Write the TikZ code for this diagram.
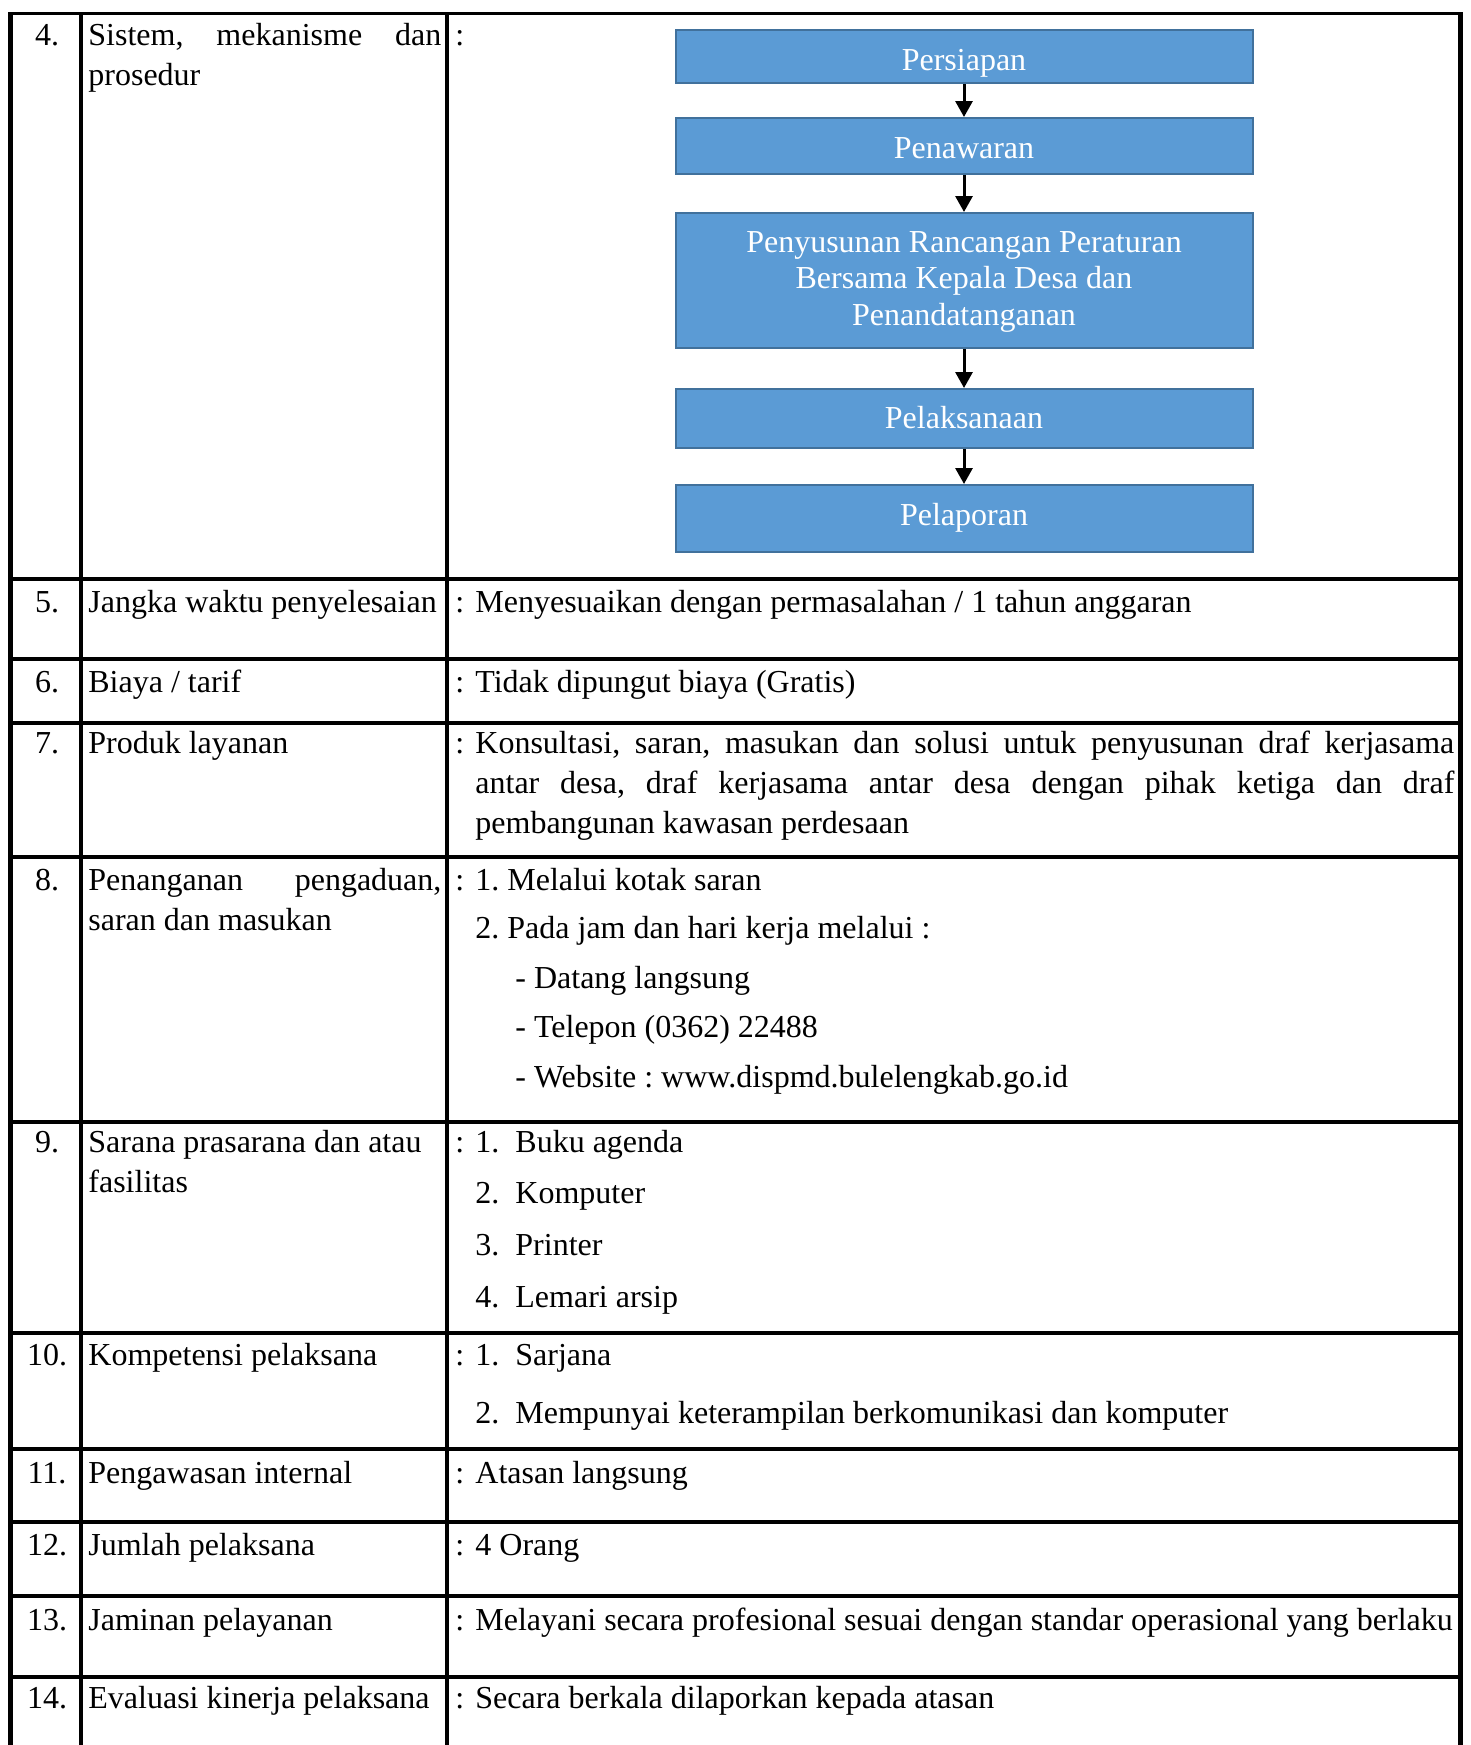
\documentclass[tikz,border=0pt]{standalone}
\usepackage{fontspec}
\setmainfont{Liberation Serif}
\usetikzlibrary{arrows.meta}
\definecolor{boxfill}{HTML}{5B9BD5}
\definecolor{boxedge}{HTML}{41719C}
\frenchspacing
\begin{document}
\begin{tikzpicture}[x=0.5pt,y=-0.5pt,
  txt/.style={anchor=base west,inner sep=0pt,font=\fontsize{16}{20}\selectfont},
  num/.style={anchor=base,inner sep=0pt,font=\fontsize{16}{20}\selectfont},
  boxtxt/.style={anchor=base,inner sep=0pt,text=white,font=\fontsize{16}{20}\selectfont},
  gridline/.style={line width=2pt},
  outerline/.style={line width=2.5pt},
  flowbox/.style={draw=boxedge,fill=boxfill,line width=1pt,minimum width=288.5pt,inner sep=0pt},
  flowarrow/.style={line width=1.5pt,-{Triangle[length=8pt,width=8.5pt]}}
]
\useasboundingbox (0,0) rectangle (1471,1745);
% table lines
\draw[line width=1.5pt] (8,13) -- (1463,13);
\foreach \yy in {579,659,723,857,1122,1333,1449,1522,1596,1677}
  \draw[gridline] (8,\yy) -- (1463,\yy);
\draw[gridline] (81,13) -- (81,1745);
\draw[gridline] (447,13) -- (447,1745);
\draw[outerline] (10.5,12) -- (10.5,1745);
\draw[outerline] (1460.5,12) -- (1460.5,1745);

% flowchart
\node[flowbox,minimum height=26.5pt] (b1) at (964,56.5) {};
\node[flowbox,minimum height=28pt] (b2) at (964,146) {};
\node[flowbox,minimum height=67.5pt] (b3) at (964,280.5) {};
\node[flowbox,minimum height=29.5pt] (b4) at (964,418.5) {};
\node[flowbox,minimum height=33.5pt] (b5) at (964,518.5) {};
\node[boxtxt] (b1t) at (964,70) {Persiapan};
\node[boxtxt] (b2t) at (964,158) {Penawaran};
\node[boxtxt] (b3ta) at (964,252) {Penyusunan Rancangan Peraturan};
\node[boxtxt] (b3tb) at (964,288.5) {Bersama Kepala Desa dan};
\node[boxtxt] (b3tc) at (964,325) {Penandatanganan};
\node[boxtxt] (b4t) at (964,428) {Pelaksanaan};
\node[boxtxt] (b5t) at (964,525) {Pelaporan};
\draw[flowarrow] (b1) -- (b2);
\draw[flowarrow] (b2) -- (b3);
\draw[flowarrow] (b3) -- (b4);
\draw[flowarrow] (b4) -- (b5);

% numbers
\node[num] (n4) at (47,45) {4.};
\node[num] (n5) at (47,612) {5.};
\node[num] (n6) at (47,692) {6.};
\node[num] (n7) at (47,753) {7.};
\node[num] (n8) at (47,890) {8.};
\node[num] (n9) at (47,1152) {9.};
\node[num] (n10) at (47,1365) {10.};
\node[num] (n11) at (47,1483) {11.};
\node[num] (n12) at (47,1555) {12.};
\node[num] (n13) at (47,1630) {13.};
\node[num] (n14) at (47,1708) {14.};

% labels
\node[txt] (l4a) at (88,45) {\makebox[176.5pt][s]{Sistem, mekanisme dan}};
\node[txt] (l4b) at (88,85) {prosedur};
\node[txt] (l5) at (88,612) {Jangka waktu penyelesaian};
\node[txt] (l6) at (88,692) {Biaya / tarif};
\node[txt] (l7) at (88,753) {Produk layanan};
\node[txt] (l8a) at (88,890) {\makebox[176.5pt][s]{Penanganan pengaduan,}};
\node[txt] (l8b) at (88,930) {saran dan masukan};
\node[txt] (l9a) at (88,1152) {Sarana prasarana dan atau};
\node[txt] (l9b) at (88,1192) {fasilitas};
\node[txt] (l10) at (88,1365) {Kompetensi pelaksana};
\node[txt] (l11) at (88,1483) {Pengawasan internal};
\node[txt] (l12) at (88,1555) {Jumlah pelaksana};
\node[txt] (l13) at (88,1630) {Jaminan pelayanan};
\node[txt] (l14) at (88,1708) {Evaluasi kinerja pelaksana};

% colons
\foreach \yy/\nm in {45/c4,612/c5,692/c6,753/c7,890/c8,1152/c9,1365/c10,1483/c11,1555/c12,1630/c13,1708/c14}
  \node[txt] (\nm) at (455,\yy) {:};

% contents
\node[txt] (v5) at (475,612) {Menyesuaikan dengan permasalahan / 1 tahun anggaran};
\node[txt] (v6) at (475,692) {Tidak dipungut biaya (Gratis)};
\node[txt] (v7a) at (475,753) {\makebox[489.5pt][s]{Konsultasi, saran, masukan dan solusi untuk penyusunan draf kerjasama}};
\node[txt] (v7b) at (475,793) {\makebox[489.5pt][s]{antar desa, draf kerjasama antar desa dengan pihak ketiga dan draf}};
\node[txt] (v7c) at (475,833) {pembangunan kawasan perdesaan};
\node[txt] (v8a) at (475,890) {1. Melalui kotak saran};
\node[txt] (v8b) at (475,938) {2. Pada jam dan hari kerja melalui :};
\node[txt] (v8c) at (515,988) {- Datang langsung};
\node[txt] (v8d) at (515,1037) {- Telepon (0362) 22488};
\node[txt] (v8e) at (515,1087) {- Website : www.dispmd.bulelengkab.go.id};
\node[txt] (v9a) at (475,1152) {\makebox[20pt][l]{1.}Buku agenda};
\node[txt] (v9b) at (475,1203) {\makebox[20pt][l]{2.}Komputer};
\node[txt] (v9c) at (475,1255) {\makebox[20pt][l]{3.}Printer};
\node[txt] (v9d) at (475,1307) {\makebox[20pt][l]{4.}Lemari arsip};
\node[txt] (v10a) at (475,1365) {\makebox[20pt][l]{1.}Sarjana};
\node[txt] (v10b) at (475,1423) {\makebox[20pt][l]{2.}Mempunyai keterampilan berkomunikasi dan komputer};
\node[txt] (v11) at (475,1483) {Atasan langsung};
\node[txt] (v12) at (475,1555) {4 Orang};
\node[txt] (v13) at (475,1630) {Melayani secara profesional sesuai dengan standar operasional yang berlaku};
\node[txt] (v14) at (475,1708) {Secara berkala dilaporkan kepada atasan};
\end{tikzpicture}
\end{document}
